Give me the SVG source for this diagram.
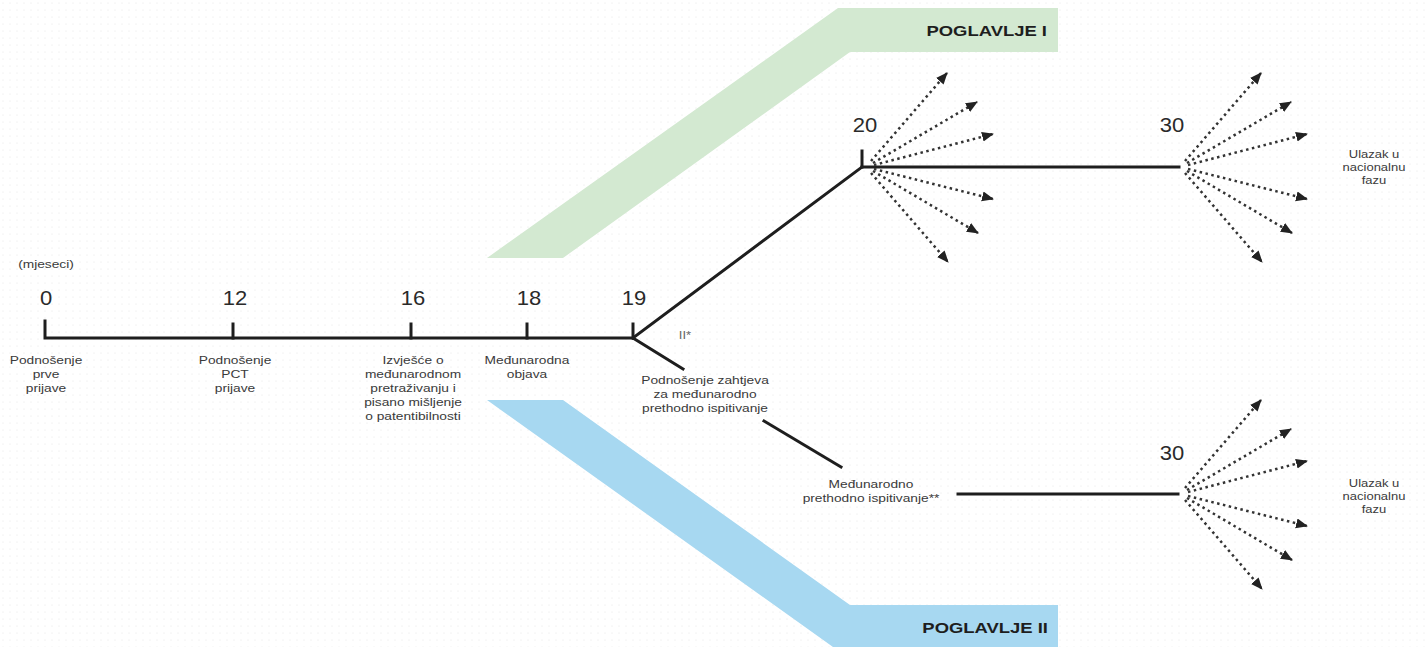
<svg xmlns="http://www.w3.org/2000/svg" xmlns:xlink="http://www.w3.org/1999/xlink" width="1425" height="647" viewBox="0 0 1425 647">
<style>
.ln{stroke:#1e1e1e;stroke-width:3;fill:none;stroke-linecap:square}
.dot{stroke:#333;stroke-width:2.5;fill:none;stroke-dasharray:2.5 3.5;marker-end:url(#ah)}
.lbl{font-family:"Liberation Sans",Arial,sans-serif;font-size:11px;fill:#3a3a3a;text-anchor:middle}
.num{font-family:"Liberation Sans",Arial,sans-serif;font-size:20px;fill:#2a2a2a;text-anchor:middle}
.sm{font-family:"Liberation Sans",Arial,sans-serif;font-size:10px;fill:#3a3a3a;text-anchor:middle}
.tiny{font-family:"Liberation Sans",Arial,sans-serif;font-size:10px;fill:#666;text-anchor:middle}
.hd{font-family:"Liberation Sans",Arial,sans-serif;font-size:15px;font-weight:bold;fill:#1e1e1e;text-anchor:end}
</style>
<defs>
<pattern id="bgdots" width="7" height="7" patternUnits="userSpaceOnUse"><circle cx="3" cy="3" r="0.6" fill="#e2e2e2"/></pattern>
<marker id="ah" markerUnits="userSpaceOnUse" markerWidth="13" markerHeight="11" refX="11" refY="5" orient="auto"><path d="M0,0 L12,5 L0,10 z" fill="#222"/></marker>
<g id="fan">
<line class="dot" x1="5" y1="-6" x2="81" y2="-94"/>
<line class="dot" x1="7" y1="-4" x2="111" y2="-65"/>
<line class="dot" x1="8" y1="-2" x2="127" y2="-33"/>
<line class="dot" x1="8" y1="2" x2="127" y2="32"/>
<line class="dot" x1="7" y1="4" x2="112" y2="66"/>
<line class="dot" x1="5" y1="6" x2="82" y2="95"/>
</g>
</defs>
<rect width="1425" height="647" fill="#ffffff"/>
<rect width="1425" height="647" fill="url(#bgdots)"/>

<g id="chapter1">
<polygon points="487,258 838,8 1058,8 1058,52 850,52 563,258" fill="#d3e9d1"/>
<text class="hd" transform="translate(1047,36) scale(1.23,1)">POGLAVLJE I</text>
</g>
<g id="chapter2">
<polygon points="487,400 563,400 850,605 1058,605 1058,647 833,647" fill="#a7d8f1"/>
<text class="hd" transform="translate(1048,633) scale(1.23,1)">POGLAVLJE II</text>
</g>

<g id="connectors">
<path class="ln" d="M45,321 V338 H633"/>
<line class="ln" x1="233" y1="324" x2="233" y2="338"/>
<line class="ln" x1="411" y1="324" x2="411" y2="338"/>
<line class="ln" x1="527" y1="324" x2="527" y2="338"/>
<line class="ln" x1="633" y1="324" x2="633" y2="338"/>
<line class="ln" x1="633" y1="338" x2="862" y2="167"/>
<line class="ln" x1="862" y1="151" x2="862" y2="167"/>
<line class="ln" x1="862" y1="167" x2="1179" y2="167"/>
<line class="ln" x1="633" y1="338" x2="683" y2="369"/>
<line class="ln" x1="764" y1="421" x2="841" y2="467"/>
<line class="ln" x1="958" y1="494" x2="1178" y2="494"/>
<use xlink:href="#fan" href="#fan" x="866" y="167"/>
<use xlink:href="#fan" href="#fan" x="1180" y="167"/>
<use xlink:href="#fan" href="#fan" x="1180" y="494"/>
</g>

<g id="m0">
<text class="lbl" transform="translate(46,268) scale(1.25,1)">(mjeseci)</text>
<text class="num" transform="translate(46,305) scale(1.1,1)">0</text>
<text class="lbl" transform="translate(46,364) scale(1.25,1)"><tspan x="0" y="0">Podnošenje</tspan><tspan x="0" y="14">prve</tspan><tspan x="0" y="28">prijave</tspan></text>
</g>
<g id="m12">
<text class="num" transform="translate(235,305) scale(1.1,1)">12</text>
<text class="lbl" transform="translate(235,364) scale(1.25,1)"><tspan x="0" y="0">Podnošenje</tspan><tspan x="0" y="14">PCT</tspan><tspan x="0" y="28">prijave</tspan></text>
</g>
<g id="m16">
<text class="num" transform="translate(413,305) scale(1.1,1)">16</text>
<text class="lbl" transform="translate(413,364) scale(1.25,1)"><tspan x="0" y="0">Izvješće o</tspan><tspan x="0" y="14">međunarodnom</tspan><tspan x="0" y="28">pretraživanju i</tspan><tspan x="0" y="42">pisano mišljenje</tspan><tspan x="0" y="56">o patentibilnosti</tspan></text>
</g>
<g id="m18">
<text class="num" transform="translate(529,305) scale(1.1,1)">18</text>
<text class="lbl" transform="translate(527,364) scale(1.25,1)"><tspan x="0" y="0">Međunarodna</tspan><tspan x="0" y="14">objava</tspan></text>
</g>
<g id="m19">
<text class="num" transform="translate(634,305) scale(1.1,1)">19</text>
<text class="tiny" transform="translate(685,339) scale(1.3,1)">II*</text>
<text class="lbl" transform="translate(705,384) scale(1.25,1)"><tspan x="0" y="0">Podnošenje zahtjeva</tspan><tspan x="0" y="14">za međunarodno</tspan><tspan x="0" y="28">prethodno ispitivanje</tspan></text>
</g>
<g id="ipe">
<text class="lbl" transform="translate(871,488) scale(1.25,1)"><tspan x="0" y="0">Međunarodno</tspan><tspan x="0" y="14">prethodno ispitivanje**</tspan></text>
</g>
<g id="m20">
<text class="num" transform="translate(865,132) scale(1.1,1)">20</text>
</g>
<g id="m30a">
<text class="num" transform="translate(1172,132) scale(1.1,1)">30</text>
<text class="sm" transform="translate(1374,158) scale(1.3,1)"><tspan x="0" y="0">Ulazak u</tspan><tspan x="0" y="13">nacionalnu</tspan><tspan x="0" y="26">fazu</tspan></text>
</g>
<g id="m30b">
<text class="num" transform="translate(1172,460) scale(1.1,1)">30</text>
<text class="sm" transform="translate(1374,487) scale(1.3,1)"><tspan x="0" y="0">Ulazak u</tspan><tspan x="0" y="13">nacionalnu</tspan><tspan x="0" y="26">fazu</tspan></text>
</g>
</svg>
